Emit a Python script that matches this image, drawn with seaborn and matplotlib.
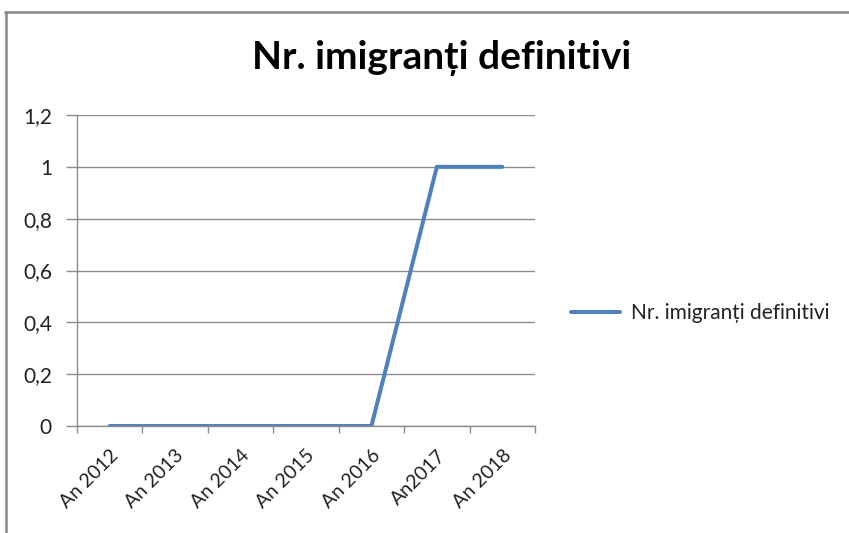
import numpy as np
import pandas as pd
import seaborn as sns
import matplotlib
matplotlib.use("Agg")
import matplotlib.pyplot as plt
from matplotlib.lines import Line2D
from matplotlib.ticker import FuncFormatter, MultipleLocator

# data
years = ["An 2012", "An 2013", "An 2014", "An 2015", "An 2016", "An2017", "An 2018"]
immigrants = [0, 0, 0, 0, 0, 1, 1]
series_name = "Nr. imigranți definitivi"

df = pd.DataFrame({"year": years, "value": immigrants})

sns.set_theme(style="white")
plt.rcParams["font.family"] = ["Lato", "DejaVu Sans"]

grid_col = "#8c8c8c"
line_col = "#4f81bd"
txt_col = "#222222"
fs = 15

fig = plt.figure(figsize=(8.49, 5.33), dpi=100, facecolor="white")
ax = fig.add_axes([77 / 849, 1 - 426 / 533, (535 - 77) / 849, (426 - 115) / 533])

sns.lineplot(data=df, x="year", y="value", sort=False, color=line_col,
             linewidth=2.9, label=series_name, ax=ax)

ax.set_xlim(-0.5, len(years) - 0.5)
ax.set_ylim(0, 1.2)
ax.yaxis.set_major_locator(MultipleLocator(0.2))
ax.yaxis.set_major_formatter(FuncFormatter(lambda v, p: f"{round(v, 1):g}".replace(".", ",")))
ax.grid(axis="y", color=grid_col, linewidth=1)
ax.set_axisbelow(True)
ax.set_xlabel("")
ax.set_ylabel("")

for side in ["top", "right"]:
    ax.spines[side].set_visible(False)
for side in ["left", "bottom"]:
    ax.spines[side].set_color(grid_col)
    ax.spines[side].set_linewidth(1)

# category labels centered, tick marks between categories
ax.set_xticks(range(len(years)))
ax.set_xticklabels(years, rotation=45, ha="right", rotation_mode="anchor")
ax.set_xticks(np.arange(-0.5, len(years), 1), minor=True)
ax.tick_params(axis="x", which="major", length=0, pad=15, labelsize=14, colors=txt_col)
ax.tick_params(axis="x", which="minor", length=5, width=1, color=grid_col, bottom=True)
ax.tick_params(axis="y", length=8, width=1, color=grid_col, pad=10, labelsize=fs,
               colors=txt_col, left=True)

leg = ax.legend(loc="center left", bbox_to_anchor=(1.079, 0.363), frameon=False,
                fontsize=fs, handlelength=2.35, handletextpad=0.5,
                borderaxespad=0, borderpad=0)
for t in leg.get_texts():
    t.set_color(txt_col)

fig.text(442 / 849, 1 - 58 / 533, series_name, ha="center", va="center",
         fontsize=28, fontweight="bold", color="black")

# chart area border (top and left edges visible in the crop)
fig.add_artist(Line2D([5 / 849, 1], [1 - 12 / 533] * 2, transform=fig.transFigure,
                      color="#878787", linewidth=1.8))
fig.add_artist(Line2D([6 / 849] * 2, [0, 1 - 12 / 533], transform=fig.transFigure,
                      color="#878787", linewidth=1.8))

fig.savefig("out.png", dpi=100, facecolor="white")
plt.close(fig)
